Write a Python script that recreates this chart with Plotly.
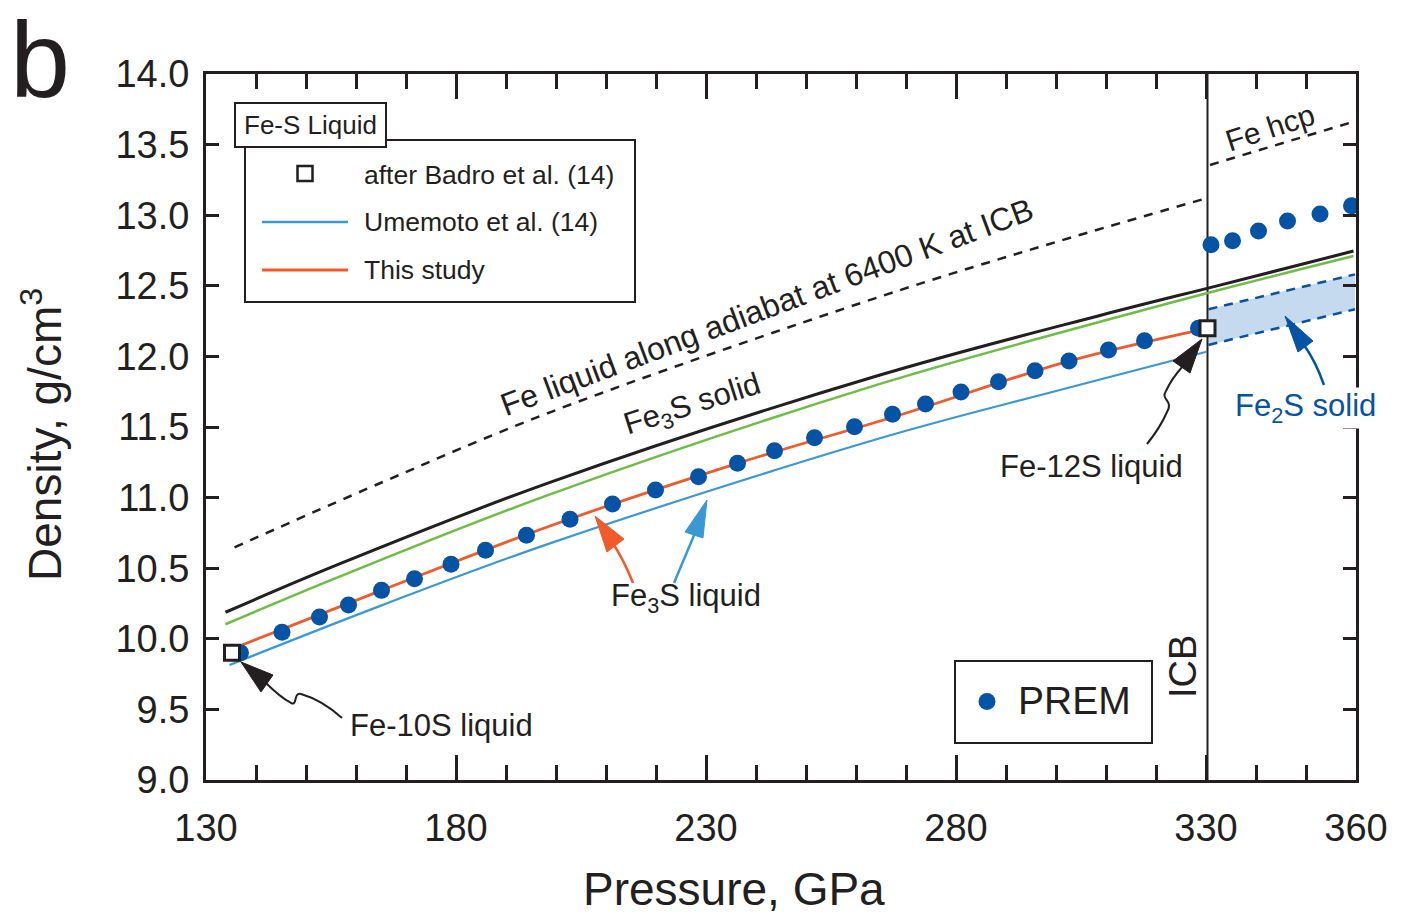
import plotly.graph_objects as go

# ---------------- data ----------------
prem_oc_p = [136.9, 145.2, 152.7, 158.5, 165.1, 171.7, 179.0, 185.9, 194.1, 202.8, 211.3, 219.9, 228.5,
             236.3, 243.7, 251.7, 259.7, 267.3, 273.9, 281.0, 288.5, 295.8, 302.6, 310.5, 317.7, 328.5]
prem_oc_rho = [9.902, 10.046, 10.154, 10.239, 10.343, 10.426, 10.528, 10.627, 10.733, 10.846, 10.955, 11.054, 11.148,
               11.243, 11.332, 11.424, 11.502, 11.590, 11.663, 11.748, 11.821, 11.899, 11.967, 12.045, 12.111, 12.199]
prem_ic_p = [331.0, 335.3, 340.5, 346.3, 352.8, 359.1]
prem_ic_rho = [12.790, 12.819, 12.888, 12.959, 13.008, 13.067]

badro_p = [135.2, 330.3]
badro_rho = [9.902, 12.199]

fe3s_solid_p = [133.9, 156.7, 198.8, 264.8, 308.8, 332.8, 359.5]
fe3s_solid_rho = [10.188, 10.53, 11.108, 11.868, 12.29, 12.505, 12.746]

green_p = [133.9, 156.7, 198.8, 264.8, 308.8, 332.8, 359.5]
green_rho = [10.103, 10.44, 11.023, 11.805, 12.245, 12.472, 12.711]

this_study_p = [135.3, 165.1, 198.8, 236.3, 268.8, 302.6, 330.3]
this_study_rho = [9.93, 10.343, 10.799, 11.243, 11.585, 11.967, 12.199]

umemoto_p = [134.7, 165.0, 198.8, 264.8, 300.0, 330.1]
umemoto_rho = [9.814, 10.235, 10.676, 11.420, 11.755, 12.033]

fe_liq_p = [135.7, 165.0, 198.8, 264.8, 300.0, 330.1]
fe_liq_rho = [10.648, 11.105, 11.604, 12.423, 12.81, 13.120]

fe_hcp_p = [330.8, 359.5]
fe_hcp_rho = [13.356, 13.662]

fe2s_p = [330.5, 359.8]
fe2s_upper = [12.334, 12.581]
fe2s_lower = [12.081, 12.334]

ICB_P = 330.3

x_ticks = [130, 180, 230, 280, 330, 360]
x_minor = [140, 150, 160, 170, 190, 200, 210, 220, 240, 250, 260, 270, 290, 300, 310, 320, 340, 350]

# ---------------- styling ----------------
FONT = "Liberation Sans, Arial, Helvetica, sans-serif"
INK = "#231F20"
ORANGE = "#F15A2B"
LBLUE = "#3A98D5"
GREEN = "#6DBE45"
DBLUE = "#0553A4"
BAND = "#C5DAEE"

L, R, T, B = 206, 1356, 74, 780


def px(x):
    return (x - L) / (R - L)


def py(y):
    return (B - y) / (B - T)


def pt(x, y):
    return f"{px(x):.5f},{py(y):.5f}"


fig = go.Figure()

# Fe2S band
fig.add_trace(go.Scatter(x=fe2s_p, y=fe2s_lower, mode="lines",
                         line=dict(color=DBLUE, width=2.5, dash="9px,7px"), showlegend=False))
fig.add_trace(go.Scatter(x=fe2s_p, y=fe2s_upper, mode="lines", fill="tonexty", fillcolor=BAND,
                         line=dict(color=DBLUE, width=2.5, dash="9px,7px"), showlegend=False))

# ICB line
fig.add_trace(go.Scatter(x=[ICB_P, ICB_P], y=[9, 14], mode="lines",
                         line=dict(color=INK, width=2), showlegend=False))

# Curves
fig.add_trace(go.Scatter(x=fe_liq_p, y=fe_liq_rho, mode="lines", line_shape="spline",
                         line=dict(color=INK, width=2.5, dash="9px,8px"), showlegend=False))
fig.add_trace(go.Scatter(x=fe_hcp_p, y=fe_hcp_rho, mode="lines",
                         line=dict(color=INK, width=2.5, dash="9px,8px"), showlegend=False))
fig.add_trace(go.Scatter(x=green_p, y=green_rho, mode="lines", line_shape="spline",
                         line=dict(color=GREEN, width=2.5), showlegend=False))
fig.add_trace(go.Scatter(x=fe3s_solid_p, y=fe3s_solid_rho, mode="lines", line_shape="spline",
                         line=dict(color=INK, width=3), showlegend=False))
fig.add_trace(go.Scatter(x=umemoto_p, y=umemoto_rho, mode="lines", line_shape="spline",
                         line=dict(color=LBLUE, width=2.2), showlegend=False))
fig.add_trace(go.Scatter(x=this_study_p, y=this_study_rho, mode="lines", line_shape="spline",
                         line=dict(color=ORANGE, width=2.8), showlegend=False))

# PREM dots
fig.add_trace(go.Scatter(x=prem_oc_p + prem_ic_p, y=prem_oc_rho + prem_ic_rho, mode="markers",
                         marker=dict(color=DBLUE, size=17, line=dict(width=0)), showlegend=False))

# Badro squares
fig.add_trace(go.Scatter(x=badro_p, y=badro_rho, mode="markers",
                         marker=dict(symbol="square", color="white", size=15,
                                     line=dict(color=INK, width=3)), showlegend=False))

shapes = []
annotations = []

# Main legend box
shapes.append(dict(type="rect", xref="paper", yref="paper", x0=px(245), x1=px(635), y0=py(302), y1=py(140),
                   line=dict(color=INK, width=2), fillcolor="white", layer="above"))
shapes.append(dict(type="rect", xref="paper", yref="paper", x0=px(235), x1=px(386), y0=py(147), y1=py(103),
                   line=dict(color=INK, width=2), fillcolor="white", layer="above"))
shapes.append(dict(type="rect", xref="paper", yref="paper", x0=px(297.5), x1=px(312.5), y0=py(181), y1=py(166),
                   line=dict(color=INK, width=2.5), fillcolor="white", layer="above"))
shapes.append(dict(type="line", xref="paper", yref="paper", x0=px(262), x1=px(348), y0=py(222), y1=py(222),
                   line=dict(color=LBLUE, width=2.5), layer="above"))
shapes.append(dict(type="line", xref="paper", yref="paper", x0=px(262), x1=px(348), y0=py(270), y1=py(270),
                   line=dict(color=ORANGE, width=2.8), layer="above"))
# PREM legend box
shapes.append(dict(type="rect", xref="paper", yref="paper", x0=px(955), x1=px(1152), y0=py(743), y1=py(661),
                   line=dict(color=INK, width=2), fillcolor="white", layer="above"))
shapes.append(dict(type="circle", xref="paper", yref="paper", x0=px(978.5), x1=px(995.5), y0=py(710), y1=py(693),
                   line=dict(width=0), fillcolor=DBLUE, layer="above"))


def head(tip, c1, c2, color):
    return dict(type="path", xref="paper", yref="paper",
                path=f"M {pt(*tip)} L {pt(*c1)} L {pt(*c2)} Z",
                fillcolor=color, line=dict(color=color, width=1), layer="above")


def curve(path_pts, color, width=2):
    s = ""
    for cmd, pts_ in path_pts:
        s += cmd + " " + " ".join(pt(*p) for p in pts_) + " "
    return dict(type="path", xref="paper", yref="paper", path=s.strip(),
                line=dict(color=color, width=width), layer="above")


# Fe-10S arrow
shapes.append(curve([("M", [(266, 683)]), ("Q", [(280, 697), (291, 703)]),
                     ("C", [(298, 706), (293, 692), (301, 694)]), ("Q", [(322, 700), (342, 718)])], INK))
shapes.append(head((241, 662), (273, 675), (261, 692), INK))
# Fe-12S arrow
shapes.append(curve([("M", [(1147, 444)]), ("Q", [(1160, 428), (1167, 412)]),
                     ("C", [(1174, 400), (1160, 400), (1166, 391)]), ("Q", [(1172, 378), (1183, 366)])], INK))
shapes.append(head((1202, 339), (1173, 361), (1190, 373), INK))
# Fe3S liquid orange arrow
shapes.append(curve([("M", [(633, 583)]), ("Q", [(624, 560), (612, 542)])], ORANGE, 2.5))
shapes.append(head((595, 516), (624, 539), (607, 552), ORANGE))
# Fe3S liquid blue arrow
shapes.append(curve([("M", [(674, 583)]), ("L", [(695, 533)])], LBLUE, 2.5))
shapes.append(head((707, 500), (685, 532), (703, 538), LBLUE))
# Fe2S solid arrow
shapes.append(curve([("M", [(1324, 385)]), ("Q", [(1316, 362), (1304, 345)])], DBLUE, 2.5))
shapes.append(head((1285, 316), (1313, 341), (1298, 352), DBLUE))


def ann(text, x, y, size, color=INK, angle=0, xanchor="center", bg=None):
    d = dict(text=text, xref="paper", yref="paper", x=px(x), y=py(y), showarrow=False,
             xanchor=xanchor, yanchor="middle", textangle=angle,
             font=dict(family=FONT, size=size, color=color))
    if bg:
        d["bgcolor"] = bg
        d["borderpad"] = 0
    annotations.append(d)


ann("Fe-S Liquid", 310.5, 125, 26)
ann("after Badro et al. (14)", 362, 175, 26.5, xanchor="left")
ann("Umemoto et al. (14)", 362, 222, 26.5, xanchor="left")
ann("This study", 362, 270, 26.5, xanchor="left")
ann("PREM", 1016, 700, 39, xanchor="left")
ann("ICB", 1183, 667, 38, angle=-90)
ann("Fe liquid along adiabat at 6400 K at ICB", 767, 307, 32, angle=-20.5)
ann("Fe<sub>3</sub>S solid", 692, 406, 31, angle=-17.5)
ann("Fe hcp", 1270, 127, 30, angle=-18)
ann("Fe<sub>2</sub>S solid", 1305, 408, 31, color=DBLUE, bg="white")
ann("Fe-12S liquid", 1091, 466, 31)
ann("Fe<sub>3</sub>S liquid", 686, 598, 31)
ann("Fe-10S liquid", 441, 725, 31)
ann("b", 40, 60, 108)
ann("Pressure, GPa", 734, 889, 46)
ann("Density, g/cm<sup>3</sup>", 42, 435, 46, angle=-90)

fig.update_layout(
    width=1405, height=920,
    margin=dict(l=L, r=1405 - R, t=T, b=920 - B),
    paper_bgcolor="white", plot_bgcolor="white",
    showlegend=False,
    shapes=shapes, annotations=annotations,
    font=dict(family=FONT, color=INK),
)
fig.update_xaxes(range=[130, 360], showline=True, linewidth=3, linecolor=INK, mirror="ticks",
                 ticks="inside", tickvals=x_ticks, ticklen=25, tickwidth=3, tickcolor=INK,
                 minor=dict(tickmode="array", tickvals=x_minor, ticks="inside", ticklen=15, tickwidth=3,
                            tickcolor=INK),
                 tickfont=dict(family=FONT, size=38, color=INK), ticklabelstandoff=12,
                 showgrid=False, zeroline=False)
fig.update_yaxes(range=[9, 14], showline=True, linewidth=3, linecolor=INK, mirror="ticks",
                 ticks="inside", tick0=9, dtick=0.5, tickformat=".1f", ticklen=13, tickwidth=3, tickcolor=INK,
                 tickfont=dict(family=FONT, size=38, color=INK), ticklabelstandoff=6,
                 showgrid=False, zeroline=False)

fig.write_html("out.html")
